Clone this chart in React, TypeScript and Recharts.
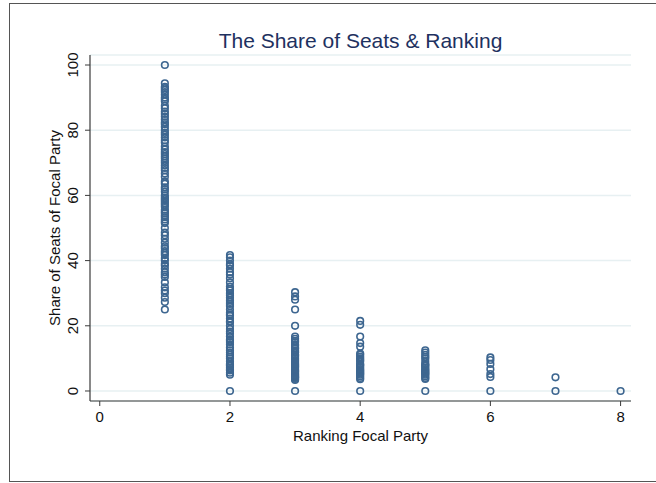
import React from "react";
import { ScatterChart, Scatter, XAxis, YAxis, CartesianGrid } from "recharts";

// Share of seats (%) held by the focal party, grouped by its ranking
const rank1Shares = [
  100, 94.4, 93.3, 92.9, 92.3, 91.7, 90.9, 90, 89.5, 88.9, 87.5, 86.7, 85.7, 85, 84.2, 83.3,
  82.4, 81.8, 81, 80, 79.2, 78.6, 77.8, 76.9, 76.2, 75, 74.1, 73.3, 72.7, 72, 71.4, 70.6, 70,
  69.2, 68.4, 67.7, 66.7, 65.7, 64.3, 63.6, 62.5, 61.9, 61.1, 60, 59.3, 58.8, 58.3, 57.7,
  57.1, 56.5, 55.6, 55, 54.5, 53.8, 53.3, 52.6, 52, 51.5, 50, 48.6, 47.8, 46.7, 45.5, 44.4,
  43.8, 42.9, 42.3, 41.7, 40.7, 40, 39, 38.5, 37.5, 36.4, 35.7, 35, 33.3, 31.8, 30.8, 30,
  28.6, 27.3, 25,
];
const rank2Shares = [
  41.7, 41, 40, 38.9, 38.5, 37.5, 36.4, 35.7, 34.6, 33.3, 32, 31.3, 30.8, 30, 29.4, 28.6,
  27.8, 27.3, 26.7, 26.1, 25, 24, 23.5, 23.1, 22.2, 21.4, 21.1, 20, 19, 18.2, 17.6, 16.7,
  15.8, 15.4, 15, 14.3, 13.3, 12.5, 11.8, 11.1, 10.5, 10, 9.1, 8.3, 8, 7.7, 7.1, 6.7, 6.3,
  5.6, 5, 0,
];
const rank3Shares = [
  30.3, 29, 28, 25, 20, 16.7, 16, 15.4, 15, 14.3, 13.9, 13.3, 13, 12.5, 12, 11.8, 11.1, 11,
  10.5, 10, 9.5, 9.1, 8.7, 8.3, 8, 7.7, 7.4, 7.1, 6.7, 6.3, 6.1, 5.9, 5.6, 5.3, 5, 4.8, 4.5,
  4.3, 4.2, 4, 3.7, 3.4, 0,
];
const rank4Shares = [
  21.5, 20.3, 16.7, 14.7, 13.6, 11.5, 11.1, 10.5, 10, 9.5, 9.1, 8.3, 8, 7.7, 7.1, 6.7, 6.3,
  6, 5.6, 5.3, 5, 4.5, 4, 3.6, 0,
];
const rank5Shares = [12.5, 11.8, 11.1, 10.5, 10, 9.1, 8.3, 8, 7.7, 7.1, 6.7, 6.3, 6, 5.6, 5.3, 5, 4.5, 4, 3.7, 0];
const rank6Shares = [10.3, 9.5, 8.3, 6.7, 5.2, 4.3, 0];
const rank7Shares = [4.2, 0];
const rank8Shares = [0];

const rankings = [1, 2, 3, 4, 5, 6, 7, 8];
const sharesByRank = [
  rank1Shares, rank2Shares, rank3Shares, rank4Shares,
  rank5Shares, rank6Shares, rank7Shares, rank8Shares,
];

const xTicks = [0, 2, 4, 6, 8];
const yTicks = [0, 20, 40, 60, 80, 100];

const points = rankings.flatMap((rank, i) =>
  sharesByRank[i].map((share) => ({ rank, share }))
);

const FONT = '"Liberation Sans", Arial, Helvetica, sans-serif';
const MARKER = "#3d6690";
const AXIS = "#3a3a3a";

const HollowCircle = (props: any) => {
  const { cx, cy } = props;
  if (cx == null || cy == null) return null;
  return <circle cx={cx} cy={cy} r={3.3} fill="none" stroke={MARKER} strokeWidth={1.6} />;
};

const XTick = (props: any) => {
  const { x, y, payload } = props;
  return (
    <text x={x} y={y + 13.5} textAnchor="middle" fontFamily={FONT} fontSize={15} fill="#111">
      {payload.value}
    </text>
  );
};

const YTick = (props: any) => {
  const { x, y, payload } = props;
  const bx = x - 5;
  return (
    <text
      x={bx}
      y={y}
      transform={`rotate(-90, ${bx}, ${y})`}
      textAnchor="middle"
      fontFamily={FONT}
      fontSize={15}
      fill="#111"
    >
      {payload.value}
    </text>
  );
};

export default function App() {
  return (
    <div style={{ position: "relative", width: 656, height: 483, background: "#fff", overflow: "hidden" }}>
      <style>{"body{margin:0}"}</style>
      <div
        style={{
          position: "absolute",
          left: 9,
          top: 3,
          width: 720,
          height: 479,
          border: "1.5px solid #555",
          boxSizing: "border-box",
        }}
      />
      <div style={{ position: "absolute", left: 0, top: 0 }}>
        <ScatterChart width={656} height={483} margin={{ top: 55, right: 25, bottom: 0, left: 0 }}>
          <text
            x={360.5}
            y={47.5}
            textAnchor="middle"
            fontFamily={FONT}
            fontSize={21}
            fill="#1e3160"
          >
            The Share of Seats &amp; Ranking
          </text>
          <CartesianGrid vertical={false} stroke="#e7f0f2" strokeWidth={1.5} />
          <XAxis
            type="number"
            dataKey="rank"
            domain={[-0.15, 8.16]}
            ticks={xTicks}
            allowDataOverflow
            height={82}
            tickSize={5}
            tickMargin={2}
            stroke={AXIS}
            strokeWidth={1.2}
            tickLine={{ stroke: AXIS, strokeWidth: 1 }}
            tick={<XTick />}
            label={{
              value: "Ranking Focal Party",
              position: "insideTop",
              offset: 29,
              fontFamily: FONT,
              fontSize: 15,
              fill: "#111",
            }}
          />
          <YAxis
            type="number"
            dataKey="share"
            domain={[-3.07, 103.07]}
            ticks={yTicks}
            allowDataOverflow
            width={90}
            tickSize={5}
            tickMargin={2}
            stroke={AXIS}
            strokeWidth={1.2}
            tickLine={{ stroke: AXIS, strokeWidth: 1 }}
            tick={<YTick />}
            label={{
              value: "Share of Seats of Focal Party",
              angle: -90,
              position: "insideLeft",
              offset: 55,
              style: { textAnchor: "middle" },
              fontFamily: FONT,
              fontSize: 15,
              fill: "#111",
            }}
          />
          <Scatter data={points} shape={<HollowCircle />} isAnimationActive={false} />
        </ScatterChart>
      </div>
    </div>
  );
}
